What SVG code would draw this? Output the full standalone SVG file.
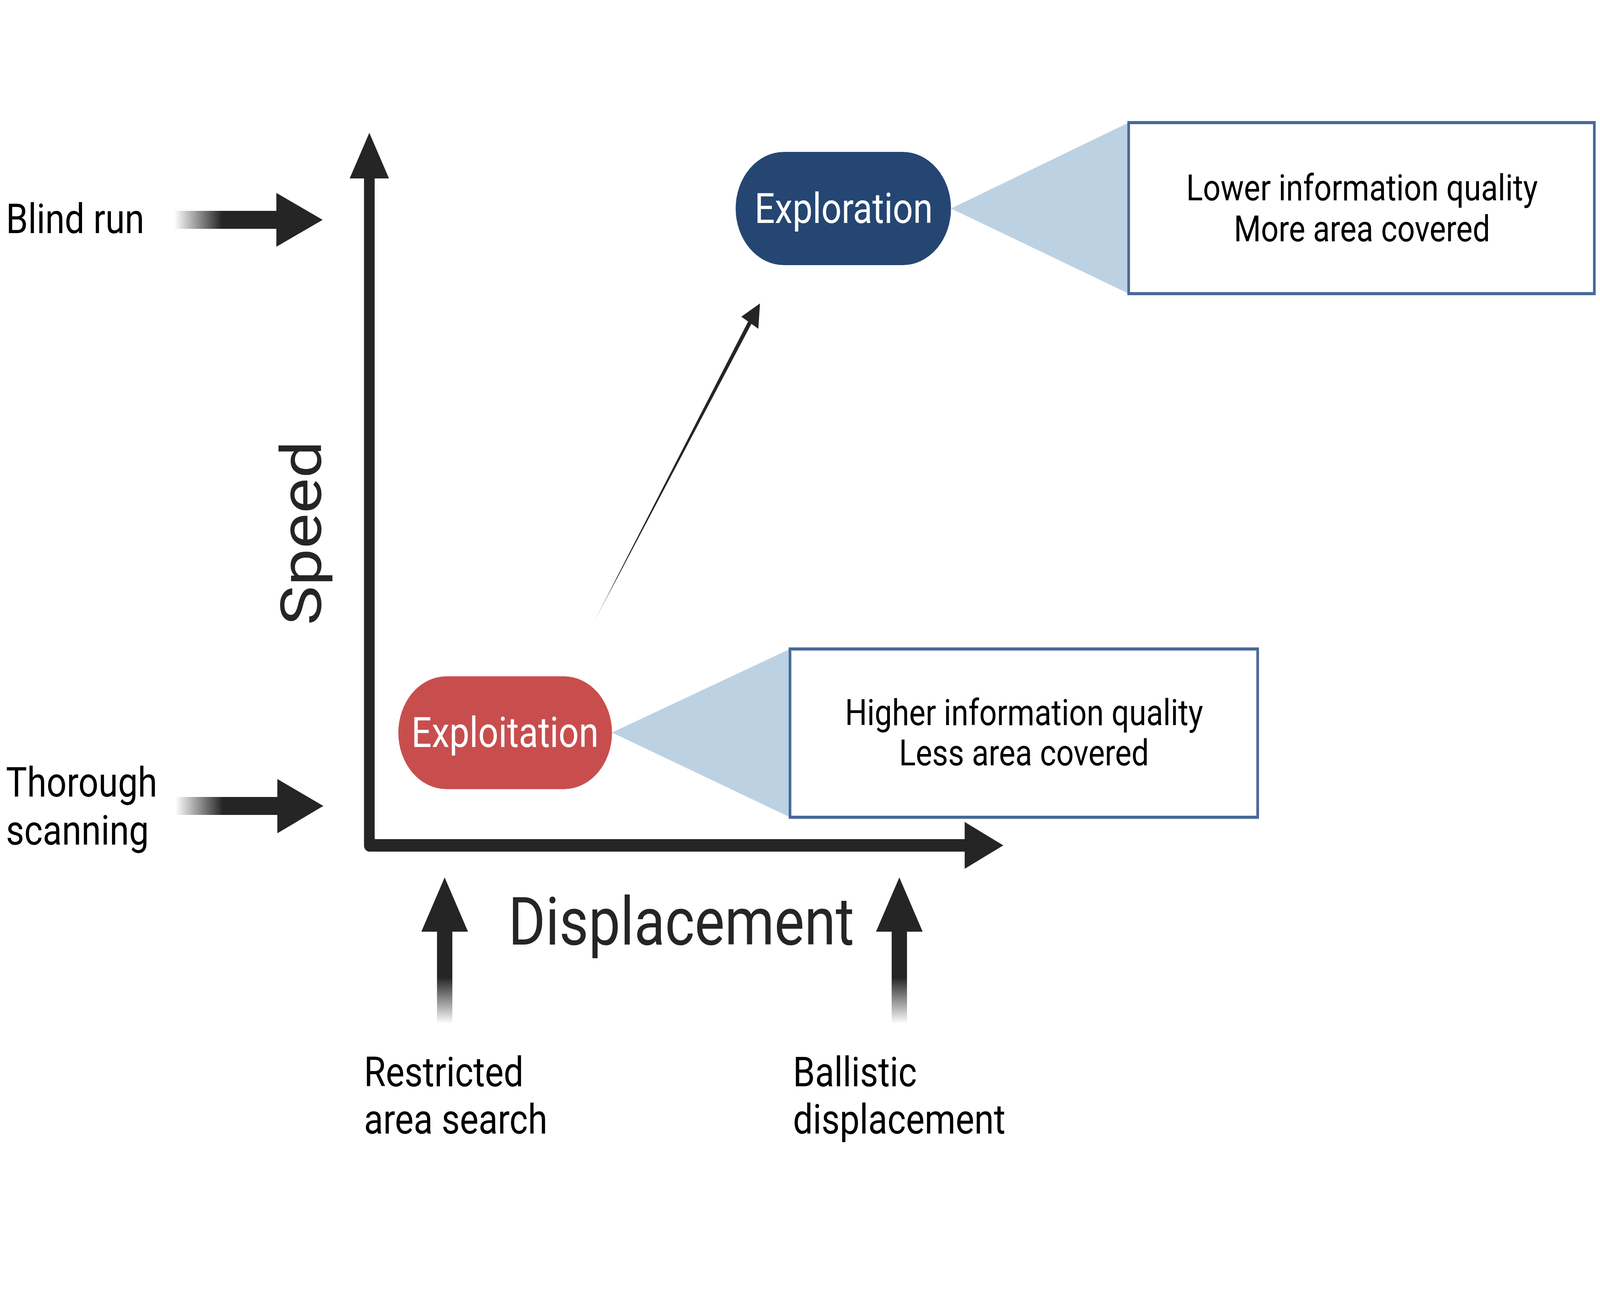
<svg xmlns="http://www.w3.org/2000/svg" width="4800" height="3360" viewBox="0 0 4800 3360" preserveAspectRatio="none">
<defs>
<style>
svg{width:100vw;height:100vh}
.lbl{font-family:Roboto,"Liberation Sans",sans-serif;font-size:106px;fill:#000}
.axis{font-family:Roboto,"Liberation Sans",sans-serif;font-size:170px;fill:#252525}
.node{font-family:Roboto,"Liberation Sans",sans-serif;font-size:107px;fill:#fff;text-anchor:middle}
.box{font-family:Roboto,"Liberation Sans",sans-serif;font-size:93px;fill:#000;text-anchor:middle}
.dark{fill:#252525}
.boxr{fill:#fff;stroke:#4a6898;stroke-width:8}
.tri{fill:#bcd2e3}
</style>
<linearGradient id="gh" x1="0" y1="0" x2="1" y2="0">
<stop offset="0" stop-color="#252525" stop-opacity="0"/>
<stop offset="0.46" stop-color="#252525" stop-opacity="1"/>
<stop offset="1" stop-color="#252525" stop-opacity="1"/>
</linearGradient>
<linearGradient id="gv" x1="0" y1="1" x2="0" y2="0">
<stop offset="0" stop-color="#252525" stop-opacity="0"/>
<stop offset="0.49" stop-color="#252525" stop-opacity="1"/>
<stop offset="1" stop-color="#252525" stop-opacity="1"/>
</linearGradient>
<linearGradient id="gd" gradientUnits="userSpaceOnUse" x1="1769" y1="1614" x2="1850" y2="1482">
<stop offset="0" stop-color="#252525" stop-opacity="0"/>
<stop offset="1" stop-color="#252525" stop-opacity="1"/>
</linearGradient>
</defs>
<rect width="4800" height="3360" fill="#fff"/>

<g id="connectors">
<path d="M1108,450 L1108,2165 L2900,2165" fill="none" stroke="#252525" stroke-width="32" stroke-linejoin="round"/>
<polygon class="dark" points="1108,340 1167,457 1049,457"/>
<polygon class="dark" points="3010,2165 2894,2105 2894,2225"/>
<polygon fill="url(#gd)" points="1769,1614 2247,819 2257,825"/>
<polygon class="dark" points="2280,777 2224,811 2275,842"/>
<rect x="523" y="540" width="310" height="46" fill="url(#gh)"/>
<polygon class="dark" points="968,563 829,494 829,632"/>
<rect x="526" y="2041" width="310" height="46" fill="url(#gh)"/>
<polygon class="dark" points="970,2064 832,1995 832,2134"/>
<rect x="1311" y="2380" width="46" height="242" fill="url(#gv)"/>
<polygon class="dark" points="1334,2247 1404,2386 1264,2386"/>
<rect x="2675" y="2380" width="46" height="242" fill="url(#gv)"/>
<polygon class="dark" points="2698,2247 2768,2386 2628,2386"/>
</g>

<g id="axis-labels">
<text class="axis" x="1525" y="2419">Displacement</text>
<text class="axis" text-anchor="middle" transform="translate(963,1365) rotate(-90)">Speed</text>
</g>

<g id="blind-run"><text class="lbl" x="18" y="597">Blind run</text></g>
<g id="thorough-scanning"><text class="lbl" x="18" y="2040">Thorough</text><text class="lbl" x="18" y="2163">scanning</text></g>
<g id="restricted"><text class="lbl" x="1092" y="2782">Restricted</text><text class="lbl" x="1092" y="2903">area search</text></g>
<g id="ballistic"><text class="lbl" x="2379" y="2782">Ballistic</text><text class="lbl" x="2379" y="2903">displacement</text></g>

<g id="exploration-callout">
<polygon class="tri" points="2853,534 3386,314 3386,752"/>
<rect class="boxr" x="3386" y="314" width="1397" height="438"/>
<text class="box" x="4086" y="513">Lower information quality</text>
<text class="box" x="4086" y="618">More area covered</text>
</g>
<g id="exploration">
<rect x="2207" y="389" width="646" height="290" rx="145" fill="#254672"/>
<text class="node" x="2531" y="571">Exploration</text>
</g>

<g id="exploitation-callout">
<polygon class="tri" points="1836,1876 2370,1662 2370,2093"/>
<rect class="boxr" x="2370" y="1662" width="1403" height="431"/>
<text class="box" x="3072" y="1857">Higher information quality</text>
<text class="box" x="3072" y="1960">Less area covered</text>
</g>
<g id="exploitation">
<rect x="1195" y="1732" width="641" height="289" rx="144.5" fill="#c84e4e"/>
<text class="node" x="1515" y="1913">Exploitation</text>
</g>
</svg>
